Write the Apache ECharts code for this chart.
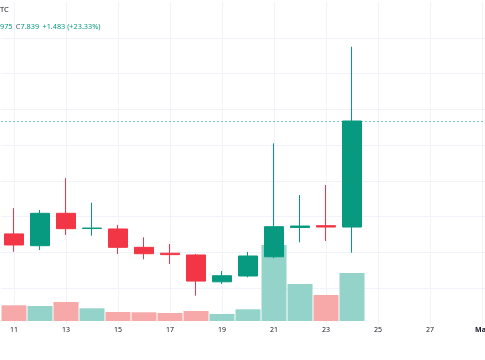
<!DOCTYPE html>
<html>
<head>
<meta charset="utf-8">
<script src="https://cdn.jsdelivr.net/npm/echarts@6/dist/echarts.min.js"></script>
<style>
html,body{margin:0;padding:0;background:#ffffff;}
#chart{width:485px;height:360px;}
</style>
</head>
<body>
<div id="chart"></div>
<script>
// Categories (days of Feb, then Mar)
const days = ['11','12','13','14','15','16','17','18','19','20','21','22','23','24','25','26','27','28','Mar'];
// OHLC values per day: [open, close, low, high]
const opens  = [6.26, 6.095, 6.548, 6.335, 6.329, 6.072, 5.99, 5.965, 5.59, 5.671, 5.94, 6.35, 6.375, 6.356];
const closes = [6.105, 6.548, 6.333, 6.342, 6.072, 5.983, 5.97, 5.60, 5.675, 5.951, 6.361, 6.37, 6.356, 7.839];
const lows   = [6.01, 6.035, 6.245, 6.235, 5.979, 5.905, 5.839, 5.396, 5.56, 5.653, 5.92, 6.142, 6.161, 5.997];
const highs  = [6.62, 6.594, 7.04, 6.696, 6.385, 6.212, 6.119, 5.98, 5.74, 6.007, 7.527, 6.804, 6.944, 8.878];
// Volume (thousands)
const volumes = [157, 150, 190, 127, 90, 87, 80, 100, 70, 117, 760, 370, 260, 480];
const lastClose = 7.839;

const UP = '#089981', DOWN = '#f23645';
const VOL_UP = '#93d3c9', VOL_DOWN = '#f7a8a8';
const GRID = '#f0f3fa';

const candleData = days.map((d, i) => i < opens.length ? [opens[i], closes[i], lows[i], highs[i]] : '-');
const volData = days.map((d, i) => i < volumes.length ? {
  value: volumes[i],
  itemStyle: { color: closes[i] >= opens[i] ? VOL_UP : VOL_DOWN }
} : '-');

const chart = echarts.init(document.getElementById('chart'), null, {renderer: 'canvas'});
chart.setOption({
  animation: false,
  backgroundColor: '#ffffff',
  textStyle: { fontFamily: 'Noto Sans' },
  grid: [
    { left: 1, width: 494, top: 2.24, height: 321.75, outerBoundsMode: 'none', containLabel: false },
    { left: 1, width: 494, bottom: 39, height: 100, outerBoundsMode: 'none', containLabel: false }
  ],
  xAxis: [
    {
      type: 'category', gridIndex: 0, data: days, boundaryGap: true,
      axisLine: { show: false }, axisTick: { show: false },
      axisLabel: {
        interval: 1, color: '#131722', fontSize: 7, margin: 3,
        formatter: v => v === 'Mar' ? '{b|' + v + '}' : v,
        rich: { b: { fontWeight: 'bold', color: '#131722', fontSize: 7 } }
      },
      splitLine: { show: true, interval: 1, alignWithLabel: true, lineStyle: { color: GRID, width: 1 } }
    },
    {
      type: 'category', gridIndex: 1, data: days, boundaryGap: true, show: false
    }
  ],
  yAxis: [
    {
      type: 'value', gridIndex: 0, min: 5, max: 9.5, interval: 0.5, position: 'right',
      axisLabel: { show: false }, axisLine: { show: false }, axisTick: { show: false },
      splitLine: { show: true, showMinLine: false, showMaxLine: false, lineStyle: { color: GRID, width: 1 } }
    },
    {
      type: 'value', gridIndex: 1, min: 0, max: 1000, show: false, splitLine: { show: false }
    }
  ],
  graphic: [
    { type: 'text', left: 0, top: 6, style: { text: 'TC', fill: '#131722', font: '7.5px "Noto Sans"' } },
    { type: 'text', left: 0, top: 21, style: {
        text: '{g|975} {k|C}{g|7.839} {g|+1.483 (+23.33%)}',
        rich: {
          g: { fill: UP, font: '7.3px "Noto Sans"' },
          k: { fill: '#555d6b', font: '7.3px "Noto Sans"' }
        }
    } }
  ],
  series: [
    {
      type: 'bar', xAxisIndex: 1, yAxisIndex: 1, data: volData,
      barWidth: 25, z: 1, silent: true
    },
    {
      type: 'candlestick', xAxisIndex: 0, yAxisIndex: 0, data: candleData,
      barWidth: 20, z: 5, clip: false,
      itemStyle: { color: UP, color0: DOWN, borderColor: UP, borderColor0: DOWN, borderWidth: 1 },
      markLine: {
        silent: true, symbol: ['none', 'none'],
        label: { show: false },
        emphasis: { disabled: true },
        lineStyle: { color: '#7fcbbd', type: [2, 2], width: 1, opacity: 1 },
        data: [{ yAxis: lastClose }]
      }
    }
  ]
});
</script>
</body>
</html>
